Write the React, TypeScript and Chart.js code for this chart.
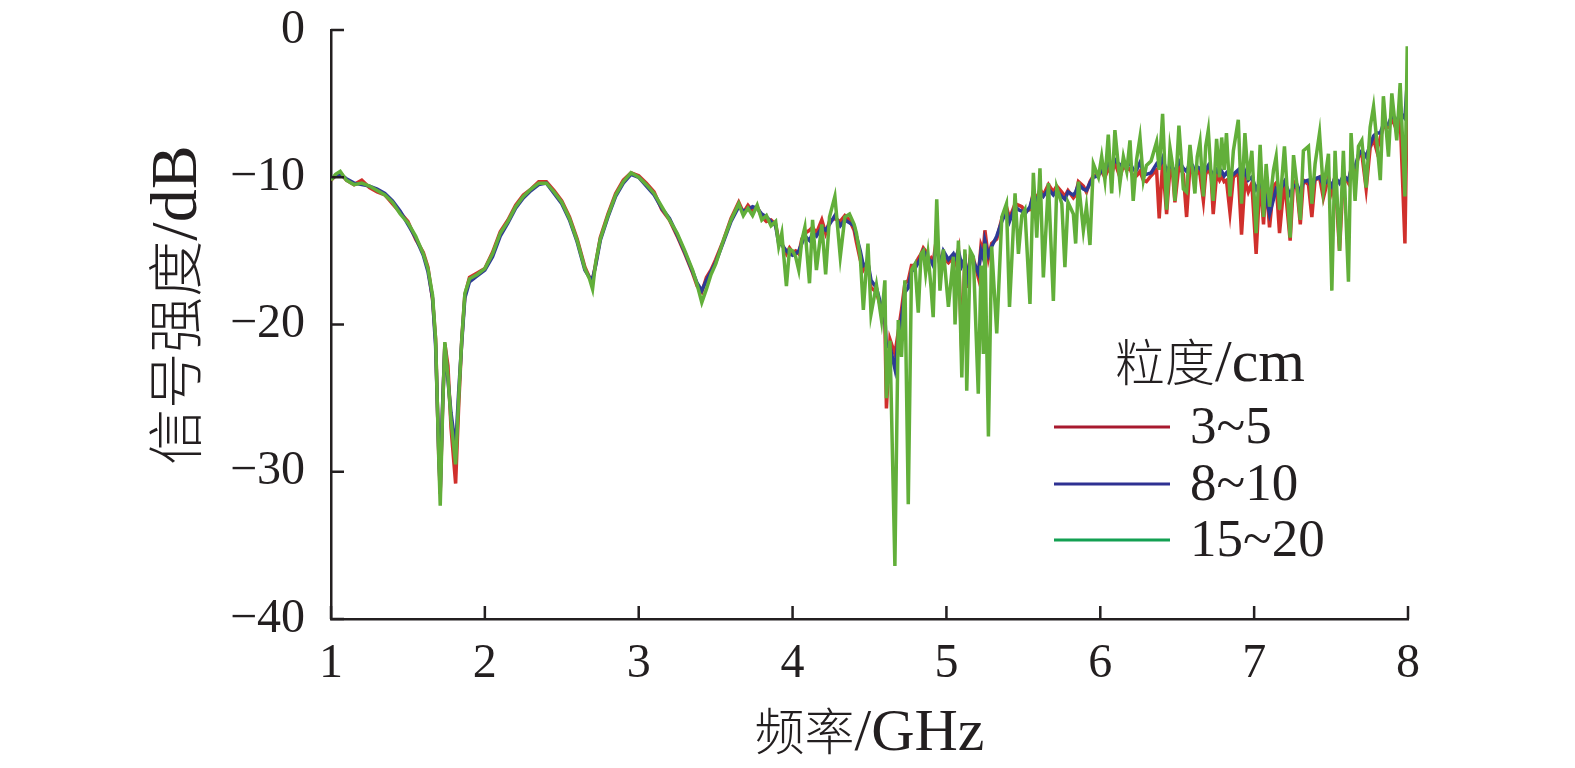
import React, { useEffect, useRef } from "react";
import { Chart, registerables } from "chart.js";

Chart.register(...registerables);

// Frequency (GHz) sample positions
const FREQ = [
  1.00, 1.03, 1.06, 1.10, 1.15, 1.20, 1.25, 1.30, 1.35, 1.40, 1.45, 1.50, 1.55, 1.60, 1.63, 1.66, 1.68, 1.70, 1.71, 1.725,
  1.74, 1.76, 1.78, 1.81, 1.83, 1.85, 1.87, 1.90, 1.95, 2.00, 2.05, 2.10, 2.15, 2.20, 2.25, 2.30, 2.35, 2.40, 2.45, 2.50,
  2.55, 2.60, 2.65, 2.68, 2.70, 2.72, 2.75, 2.80, 2.85, 2.90, 2.95, 3.00, 3.05, 3.10, 3.15, 3.20, 3.25, 3.30, 3.35, 3.38,
  3.41, 3.44, 3.47, 3.50, 3.55, 3.60, 3.65, 3.68, 3.71, 3.74, 3.77, 3.80, 3.83, 3.86, 3.89, 3.91, 3.93, 3.96, 3.98, 4.00,
  4.02, 4.04, 4.06, 4.08, 4.11, 4.13, 4.155, 4.19, 4.215, 4.24, 4.275, 4.31, 4.34, 4.37, 4.40, 4.415, 4.44, 4.46, 4.49, 4.51,
  4.545, 4.578, 4.60, 4.61, 4.633, 4.665, 4.687, 4.708, 4.73, 4.752, 4.773, 4.795, 4.817, 4.835, 4.85, 4.865, 4.88, 4.90, 4.914, 4.937,
  4.958, 4.98, 5.013, 5.045, 5.056, 5.078, 5.10, 5.12, 5.132, 5.155, 5.175, 5.207, 5.225, 5.24, 5.25, 5.273, 5.294, 5.327, 5.36, 5.39,
  5.41, 5.446, 5.468, 5.49, 5.51, 5.543, 5.565, 5.587, 5.608, 5.63, 5.663, 5.695, 5.717, 5.75, 5.77, 5.79, 5.825, 5.84, 5.858, 5.89,
  5.91, 5.933, 5.955, 5.988, 6.009, 6.03, 6.052, 6.074, 6.095, 6.128, 6.15, 6.172, 6.193, 6.214, 6.236, 6.258, 6.28, 6.30, 6.33, 6.366,
  6.383, 6.405, 6.431, 6.453, 6.47, 6.485, 6.511, 6.54, 6.561, 6.583, 6.60, 6.615, 6.63, 6.648, 6.67, 6.685, 6.702, 6.72, 6.734, 6.756,
  6.775, 6.789, 6.805, 6.82, 6.843, 6.865, 6.897, 6.918, 6.94, 6.962, 6.985, 7.013, 7.039, 7.061, 7.078, 7.10, 7.126, 7.143, 7.165, 7.197,
  7.234, 7.256, 7.278, 7.30, 7.32, 7.353, 7.375, 7.396, 7.425, 7.45, 7.483, 7.505, 7.526, 7.555, 7.58, 7.613, 7.63, 7.656, 7.678, 7.70,
  7.728, 7.754, 7.776, 7.797, 7.82, 7.84, 7.873, 7.895, 7.927, 7.949, 7.98, 7.995, 8.00,
];

// 粒度 15~20 cm (green)
const S_15_20 = [
  -10.2, -9.8, -9.6, -10.2, -10.5, -10.4, -10.6, -10.9, -11.2, -11.7, -12.5, -13.1, -14.0, -15.2, -16.2, -18.0, -21.0, -29.0, -32.3, -26.0,
  -21.2, -23.5, -26.5, -29.5, -25.0, -21.0, -17.9, -16.9, -16.6, -16.2, -15.2, -13.8, -13.0, -12.0, -11.3, -10.8, -10.4, -10.4, -11.0, -11.7,
  -12.8, -14.3, -16.2, -16.9, -17.6, -15.8, -14.2, -12.6, -11.2, -10.3, -9.7, -10.0, -10.5, -11.1, -12.0, -12.9, -13.8, -15.0, -16.3, -17.3,
  -18.5, -17.6, -16.6, -15.9, -14.3, -12.9, -11.8, -12.6, -12.1, -12.6, -11.9, -12.9, -12.6, -13.3, -13.0, -14.7, -13.8, -17.4, -14.9, -15.0,
  -15.4, -16.3, -14.3, -13.4, -17.2, -12.9, -16.3, -13.2, -16.6, -12.7, -11.3, -15.4, -12.7, -12.5, -13.2, -13.8, -15.4, -19.0, -14.5, -19.3,
  -17.3, -19.7, -17.0, -25.0, -21.1, -36.4, -19.7, -22.2, -17.0, -32.2, -16.3, -15.9, -19.2, -15.2, -15.0, -16.5, -15.2, -17.5, -19.5, -11.5,
  -17.7, -14.9, -18.8, -15.4, -20.0, -14.3, -23.6, -14.9, -24.5, -15.0, -15.4, -24.7, -16.0, -22.0, -14.5, -27.6, -14.7, -20.6, -12.7, -11.8,
  -18.8, -11.1, -15.2, -12.6, -12.2, -18.6, -9.7, -14.1, -9.4, -16.8, -10.4, -18.4, -10.7, -11.8, -16.1, -11.7, -12.5, -14.5, -10.3, -13.6,
  -12.0, -14.6, -9.1, -10.0, -8.6, -10.2, -7.1, -11.1, -6.8, -10.4, -8.6, -9.6, -7.5, -11.6, -8.8, -7.3, -10.2, -9.2, -8.9, -7.6,
  -9.5, -5.7, -12.2, -8.0, -9.2, -11.6, -6.5, -10.8, -11.0, -7.8, -9.6, -11.1, -8.6, -7.6, -11.3, -7.9, -6.8, -9.8, -11.6, -7.4,
  -10.0, -7.3, -9.5, -7.0, -11.3, -8.2, -6.1, -11.8, -7.0, -10.2, -8.2, -13.8, -7.8, -12.7, -9.1, -12.0, -9.5, -8.6, -12.2, -7.9,
  -14.1, -8.5, -10.5, -12.9, -8.2, -7.9, -11.8, -9.1, -7.0, -10.9, -8.4, -17.7, -8.2, -15.0, -8.2, -17.1, -7.0, -11.6, -7.9, -7.5,
  -10.7, -6.6, -5.2, -7.5, -10.2, -4.5, -8.6, -4.3, -7.5, -3.6, -11.3, -1.1, -4.5,
];

// 粒度 8~10 cm (blue)
const S_8_10 = [
  -10.1, -9.9, -9.8, -10.1, -10.4, -10.5, -10.6, -10.8, -11.1, -11.6, -12.3, -13.2, -14.1, -15.3, -16.4, -18.2, -21.5, -28.5, -31.2, -25.5,
  -21.4, -23.8, -26.0, -28.4, -24.5, -21.2, -18.2, -17.1, -16.7, -16.3, -15.4, -14.0, -13.1, -12.1, -11.4, -10.9, -10.5, -10.4, -11.1, -11.8,
  -12.9, -14.4, -16.3, -16.8, -16.9, -16.0, -14.3, -12.7, -11.3, -10.4, -9.8, -10.0, -10.6, -11.2, -12.1, -12.8, -13.9, -15.1, -16.4, -17.2,
  -17.7, -17.0, -16.4, -15.8, -14.4, -13.0, -12.0, -12.3, -12.2, -12.0, -12.1, -12.5, -12.7, -13.0, -13.3, -14.5, -14.6, -15.0, -15.2, -15.3,
  -15.2, -15.0, -14.5, -14.0, -14.3, -13.8, -14.0, -13.4, -13.6, -13.2, -12.6, -13.3, -12.9, -13.1, -13.3, -14.0, -15.0, -16.0, -15.8, -17.0,
  -17.5, -18.8, -19.5, -21.5, -21.5, -23.0, -21.0, -19.5, -17.8, -17.5, -16.4, -16.2, -15.8, -15.4, -15.0, -15.2, -15.5, -15.7, -16.0, -14.5,
  -16.0, -15.0, -15.6, -15.2, -15.5, -15.0, -16.0, -15.5, -17.0, -15.6, -15.7, -16.5, -15.0, -15.5, -14.3, -15.3, -14.7, -14.0, -13.0, -12.3,
  -13.0, -12.0, -12.2, -12.3, -12.5, -12.0, -11.2, -11.6, -11.0, -11.3, -10.8, -11.2, -10.9, -11.3, -11.5, -11.0, -11.2, -11.0, -10.5, -10.8,
  -10.9, -10.4, -10.0, -9.9, -9.5, -9.6, -9.0, -9.4, -8.8, -9.2, -9.0, -9.3, -9.0, -9.5, -9.5, -9.0, -9.6, -9.8, -9.7, -9.1,
  -9.3, -8.7, -9.6, -9.2, -9.4, -9.6, -8.9, -9.4, -9.6, -9.0, -9.2, -9.7, -9.3, -9.4, -9.8, -9.5, -9.2, -9.6, -9.9, -9.5,
  -9.8, -9.6, -9.9, -9.7, -10.0, -9.8, -9.5, -10.1, -9.6, -10.2, -10.0, -10.8, -10.3, -11.0, -11.3, -12.5, -11.5, -10.8, -11.0, -10.3,
  -11.2, -10.6, -10.5, -11.0, -10.3, -10.2, -10.8, -10.1, -10.0, -10.5, -10.2, -10.6, -10.0, -10.4, -9.9, -10.2, -9.5, -9.3, -8.5, -8.2,
  -8.6, -7.8, -7.2, -7.0, -7.0, -6.4, -6.4, -5.8, -6.2, -5.6, -6.0, -3.5, -4.3,
];

// 粒度 3~5 cm (red)
const S_3_5 = [
  -10.2, -9.9, -9.7, -10.2, -10.5, -10.2, -10.7, -11.0, -11.2, -11.8, -12.4, -13.0, -14.2, -15.1, -16.1, -18.3, -21.0, -28.8, -31.5, -25.8,
  -21.3, -22.8, -27.0, -30.8, -25.5, -21.0, -18.0, -16.8, -16.5, -16.2, -15.1, -13.7, -12.9, -11.9, -11.2, -10.8, -10.3, -10.3, -10.9, -11.6,
  -12.7, -14.2, -16.1, -16.8, -17.0, -15.9, -14.1, -12.5, -11.1, -10.2, -9.7, -9.9, -10.4, -11.0, -12.2, -12.9, -14.0, -15.2, -16.5, -17.4,
  -17.8, -16.8, -16.3, -15.6, -14.3, -12.8, -11.7, -12.4, -11.9, -12.3, -12.0, -12.7, -13.0, -12.9, -13.2, -14.3, -14.5, -15.2, -14.8, -15.1,
  -15.0, -15.2, -14.2, -13.8, -13.6, -13.4, -13.8, -12.9, -13.8, -13.0, -12.8, -13.0, -12.6, -12.9, -13.6, -14.4, -15.6, -16.3, -15.8, -17.5,
  -17.8, -19.0, -19.8, -25.7, -21.0, -22.0, -20.5, -19.0, -17.2, -17.0, -16.0, -16.0, -15.5, -15.2, -14.8, -15.0, -15.8, -15.5, -15.8, -14.0,
  -16.0, -15.5, -15.8, -15.4, -15.8, -14.9, -22.0, -15.2, -17.5, -15.4, -15.5, -16.8, -14.6, -15.0, -13.6, -15.5, -14.5, -14.2, -12.8, -12.0,
  -12.8, -11.8, -11.9, -12.0, -12.3, -12.2, -11.0, -11.5, -10.8, -11.2, -10.5, -11.0, -10.6, -11.0, -11.3, -10.9, -11.4, -11.2, -10.3, -10.6,
  -11.0, -10.3, -9.9, -9.8, -9.6, -10.0, -9.4, -9.8, -9.0, -10.0, -9.2, -9.5, -9.4, -10.0, -9.9, -9.6, -10.2, -10.3, -9.9, -9.5,
  -12.8, -9.0, -12.5, -9.4, -9.7, -11.7, -9.2, -9.8, -12.7, -9.2, -9.6, -10.0, -9.5, -9.8, -11.6, -9.8, -9.4, -9.9, -12.5, -9.8,
  -10.2, -9.9, -10.3, -10.2, -12.4, -10.0, -9.7, -13.9, -10.2, -11.0, -10.4, -15.2, -10.0, -13.2, -10.3, -13.4, -10.6, -10.4, -13.8, -10.2,
  -14.3, -10.3, -10.8, -13.2, -10.2, -10.5, -12.7, -10.2, -10.0, -11.4, -10.0, -11.0, -9.9, -15.0, -9.8, -10.4, -9.4, -9.5, -8.6, -8.4,
  -10.8, -8.0, -7.4, -8.2, -7.3, -6.6, -6.6, -6.0, -6.8, -5.9, -14.5, -4.5, -7.0,
];

const X_TICKS = [1, 2, 3, 4, 5, 6, 7, 8];
const Y_TICKS = [0, -10, -20, -30, -40];
const SERIES_LABELS = ["3~5", "8~10", "15~20"];
const LEGEND_TITLE = "粒度/cm";
const X_TITLE = "频率/GHz";
const Y_TITLE = "信号强度/dB";

const LATIN = "'Liberation Serif', 'Times New Roman', serif";
const CJK = "'Noto Sans CJK SC', 'Noto Sans CJK JP', sans-serif";
const AXIS = "#231F20";
const LINE_COLORS = ["#D0302C", "#2D3A96", "#62AF3A"];
const LEGEND_COLORS = ["#A8192E", "#2E3192", "#13A052"];

const toPoints = (vals: number[]) => vals.map((v, i) => ({ x: FREQ[i], y: v }));

// split text into CJK / non-CJK runs so each gets its own font size
function runs(text: string, cjkSize: number, latinSize: number) {
  const out: { t: string; f: string }[] = [];
  for (const ch of text) {
    const isCjk = /[\u3400-\u9fff]/.test(ch);
    const f = isCjk ? `300 ${cjkSize}px ${CJK}` : `${latinSize}px ${LATIN}`;
    if (out.length && out[out.length - 1].f === f) out[out.length - 1].t += ch;
    else out.push({ t: ch, f });
  }
  return out;
}

// draw mixed text centred at cx along the baseline y (in current transform)
function drawMixed(ctx: CanvasRenderingContext2D, text: string, cx: number, y: number, cjkSize: number, latinSize: number) {
  const parts = runs(text, cjkSize, latinSize);
  let total = 0;
  const widths = parts.map((p) => {
    ctx.font = p.f;
    const w = ctx.measureText(p.t).width;
    total += w;
    return w;
  });
  let x = cx - total / 2;
  ctx.textAlign = "left";
  ctx.textBaseline = "alphabetic";
  parts.forEach((p, i) => {
    ctx.font = p.f;
    ctx.fillText(p.t, x, y);
    x += widths[i];
  });
}

const decorPlugin = {
  id: "decor",
  afterDraw(chart: any) {
    const ctx = chart.ctx;
    const { left, bottom } = chart.chartArea;
    const xs = chart.scales.x;
    const ys = chart.scales.y;
    ctx.save();
    ctx.strokeStyle = AXIS;
    ctx.lineWidth = 2.5;
    ctx.beginPath();
    Y_TICKS.forEach((v) => {
      const y = ys.getPixelForValue(v);
      ctx.moveTo(left, y);
      ctx.lineTo(left + 13, y);
    });
    X_TICKS.forEach((v) => {
      const x = xs.getPixelForValue(v);
      ctx.moveTo(x, bottom);
      ctx.lineTo(x, bottom - 13);
    });
    ctx.stroke();

    ctx.fillStyle = AXIS;
    drawMixed(ctx, X_TITLE, (xs.left + xs.right) / 2, 750, 50, 60);

    ctx.save();
    ctx.translate(196, 305);
    ctx.rotate(-Math.PI / 2);
    drawMixed(ctx, Y_TITLE, 0, 0, 56, 66);
    ctx.restore();

    // legend
    ctx.fillStyle = AXIS;
    drawMixed(ctx, LEGEND_TITLE, 1210, 381, 50, 60);
    const rows = [427, 484, 540];
    SERIES_LABELS.forEach((lab, i) => {
      ctx.strokeStyle = LEGEND_COLORS[i];
      ctx.lineWidth = 3;
      ctx.beginPath();
      ctx.moveTo(1054, rows[i]);
      ctx.lineTo(1170, rows[i]);
      ctx.stroke();
      ctx.fillStyle = AXIS;
      ctx.font = `53px ${LATIN}`;
      ctx.textAlign = "left";
      ctx.textBaseline = "middle";
      ctx.fillText(lab, 1190, rows[i] + 2);
    });
    ctx.restore();
  },
};

export default function App() {
  const ref = useRef<HTMLCanvasElement | null>(null);
  useEffect(() => {
    if (!ref.current) return;
    const series = [S_3_5, S_8_10, S_15_20];
    const chart = new Chart(ref.current, {
      type: "line",
      data: {
        datasets: series.map((s, i) => ({
          label: SERIES_LABELS[i],
          data: toPoints(s),
          borderColor: LINE_COLORS[i],
          backgroundColor: LINE_COLORS[i],
          borderWidth: 3.5,
          pointRadius: 0,
          tension: 0,
          fill: false,
          order: 2 - i,
        })),
      },
      options: {
        animation: false,
        responsive: false,
        devicePixelRatio: 1,
        layout: { padding: { left: 0, top: 30, right: 167, bottom: 0 } },
        plugins: { legend: { display: false }, tooltip: { enabled: false } },
        scales: {
          x: {
            type: "linear",
            min: 1,
            max: 8,
            afterFit: (s: any) => {
              s.height = 149;
              s.paddingLeft = 0;
              s.paddingRight = 0;
            },
            grid: { display: false, drawTicks: false },
            border: { display: true, color: AXIS, width: 2.5 },
            ticks: {
              stepSize: 1,
              padding: 17,
              color: AXIS,
              font: { family: LATIN, size: 48 },
              maxRotation: 0,
            },
          },
          y: {
            type: "linear",
            min: -40,
            max: 0,
            afterFit: (s: any) => {
              s.width = 331;
              s.paddingTop = 0;
              s.paddingBottom = 0;
            },
            grid: { display: false, drawTicks: false },
            border: { display: true, color: AXIS, width: 2.5 },
            ticks: {
              stepSize: 10,
              padding: 26,
              color: AXIS,
              font: { family: LATIN, size: 48 },
              callback: (v: any) => (v < 0 ? "\u2212" + Math.abs(v) : String(v)),
            },
          },
        },
      },
      plugins: [decorPlugin],
    });
    return () => chart.destroy();
  }, []);
  return (
    <div style={{ position: "fixed", left: 0, top: 0, width: 1575, height: 768, background: "#fff" }}>
      <canvas ref={ref} width={1575} height={768} />
    </div>
  );
}
